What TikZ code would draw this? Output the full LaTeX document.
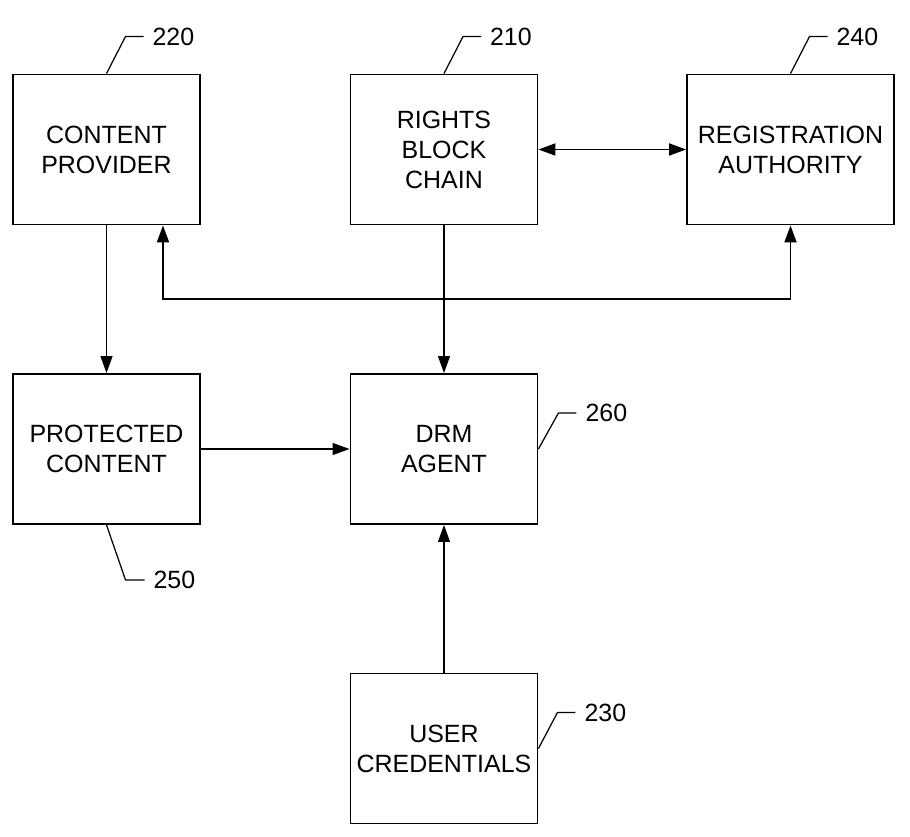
\documentclass[tikz,border=0pt]{standalone}
\usepackage{fontspec}
\setmainfont{Liberation Sans}
\usetikzlibrary{arrows.meta}
\begin{document}
\begin{tikzpicture}[x=0.02cm,y=-0.02cm,
    font=\fontsize{14.2}{17.1}\selectfont,
    box/.style={draw,line width=1.1pt,minimum height=3cm,minimum width=3.74cm,align=center,inner sep=0pt},
    refnum/.style={anchor=west,inner sep=0pt,xshift=0.17cm},
    tip/.style={-{Triangle[length=3.4mm,width=2.4mm]}},
    >={Triangle[length=3.4mm,width=2.4mm]}]
  \useasboundingbox (0,0) rectangle (910,837);
  \node[box] (cp) at (106.5,149.5) {CONTENT\\PROVIDER};
  \node[box] (rbc) at (444,149.5) {RIGHTS\\BLOCK\\CHAIN};
  \node[box,minimum width=4.14cm] (ra) at (790.5,149.5) {REGISTRATION\\AUTHORITY};
  \node[box] (pc) at (106.5,449) {PROTECTED\\CONTENT};
  \node[box] (drm) at (444,449) {DRM\\AGENT};
  \node[box] (uc) at (444,748.5) {USER\\CREDENTIALS};
  \coordinate (bus) at (444,299);
  % reference numerals
  \begin{scope}[line width=0.7pt]
    \draw (cp.north) -- ++(19,-37) -- ++(18,0) node[refnum] {220};
    \draw (rbc.north) -- ++(19,-37) -- ++(18,0) node[refnum] {210};
    \draw (ra.north) -- ++(19,-37) -- ++(18,0) node[refnum] {240};
    \draw (pc.south) -- ++(19,55) -- ++(19,0) node[refnum] {250};
    \draw (drm.east) -- ++(20,-36) -- ++(18,0) node[refnum] {260};
    \draw (uc.east) -- ++(19,-36) -- ++(18,0) node[refnum] {230};
  \end{scope}
  % connectors
  \begin{scope}[line width=0.75pt]
    \draw[tip] (cp) -- (pc);
    \draw[tip] (rbc) -- (drm);
    \draw[tip] (pc) -- (drm);
    \draw[tip] (uc) -- (drm);
  \end{scope}
  \begin{scope}[line width=1.05pt]
    \draw[<->] (rbc) -- (ra);
    \draw[<->] ([xshift=1.13cm]cp.south) |- (bus) -| (ra.south);
  \end{scope}
\end{tikzpicture}
\end{document}
